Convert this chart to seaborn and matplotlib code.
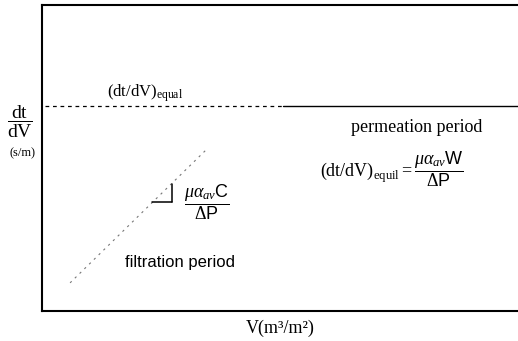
import matplotlib
matplotlib.use("Agg")
import matplotlib.pyplot as plt
import seaborn as sns
import pandas as pd

# ---- data (schematic, in arbitrary units) ----
equil_level = 6.70                  # (dt/dV)_equil plateau
plateau_dash_x = [0.06, 5.07]       # dashed part of plateau
plateau_solid_x = [5.07, 10.0]      # solid part of plateau
filtration_x = [0.59, 3.49]         # filtration-period line
filtration_y = [0.92, 5.33]
slope_h_x = [2.31, 2.73]            # slope triangle
slope_h_y = [3.56, 3.56]
slope_v_x = [2.73, 2.73]
slope_v_y = [3.56, 4.15]

x_label = "V(m³/m²)"
label_equil = r"$\mathrm{(dt/dV)}_{\mathrm{equal}}$"
label_perm = "permeation period"
label_filt = "filtration period"
formula_equil = r"$\mathrm{(dt/dV)}_{\mathrm{equil}}=\dfrac{\mu\alpha_{av}\mathsf{W}}{\Delta\mathsf{P}}$"
formula_slope = r"$\dfrac{\mu\alpha_{av}\mathsf{C}}{\Delta\mathsf{P}}$"

sns.set_theme(style="white")
plt.rcParams["font.family"] = ["Liberation Serif", "DejaVu Serif"]
plt.rcParams["mathtext.fontset"] = "custom"
plt.rcParams["mathtext.rm"] = "Liberation Serif"
plt.rcParams["mathtext.it"] = "Liberation Serif:italic"
plt.rcParams["mathtext.sf"] = "Liberation Sans"
plt.rcParams["text.color"] = "black"
plt.rcParams["axes.labelcolor"] = "black"

fig = plt.figure(figsize=(5.18, 3.41), dpi=100)
ax = fig.add_axes([42 / 518, (341 - 311) / 341, 1 - 42 / 518, (311 - 5) / 341])

kw = dict(ax=ax, estimator=None, sort=False)
sns.lineplot(x=plateau_dash_x, y=[equil_level] * 2, color="black",
             linewidth=0.9, linestyle=(0, (3, 3)), **kw)
sns.lineplot(x=plateau_solid_x, y=[equil_level] * 2, color="black",
             linewidth=1.0, **kw)
sns.lineplot(x=filtration_x, y=filtration_y, color="#777777",
             linewidth=0.8, linestyle=(0, (2, 4)), **kw)
sns.lineplot(x=slope_h_x, y=slope_h_y, color="black", linewidth=1.1, **kw)
sns.lineplot(x=slope_v_x, y=slope_v_y, color="black", linewidth=1.1, **kw)

ax.set_xlim(0, 10)
ax.set_ylim(0, 10)
ax.set_xticks([])
ax.set_yticks([])
for side in ["left", "bottom", "top"]:
    ax.spines[side].set_visible(True)
    ax.spines[side].set_color("black")
    ax.spines[side].set_linewidth(1.5)
ax.spines["right"].set_visible(False)

ax.text(1.37, 7.12, label_equil, fontsize=12, ha="left", va="center")
ax.text(7.88, 6.01, label_perm, fontsize=13, ha="center", va="center")
ax.text(5.84, 4.65, formula_equil, fontsize=13, ha="left", va="center")
ax.text(3.47, 3.55, formula_slope, fontsize=13, ha="center", va="center")
ax.text(2.90, 1.60, label_filt, fontsize=12, ha="center", va="center",
        family=["Liberation Sans", "DejaVu Sans"])

ax.set_xlabel(x_label, fontsize=13, labelpad=6)

fig.text(20 / 518, 1 - 122 / 341, r"$\dfrac{\mathrm{dt}}{\mathrm{dV}}$",
         fontsize=14, ha="center", va="center")
fig.text(22 / 518, 1 - 153 / 341, "(s/m)", fontsize=9, ha="center", va="center")

fig.savefig("out.png", dpi=100)
